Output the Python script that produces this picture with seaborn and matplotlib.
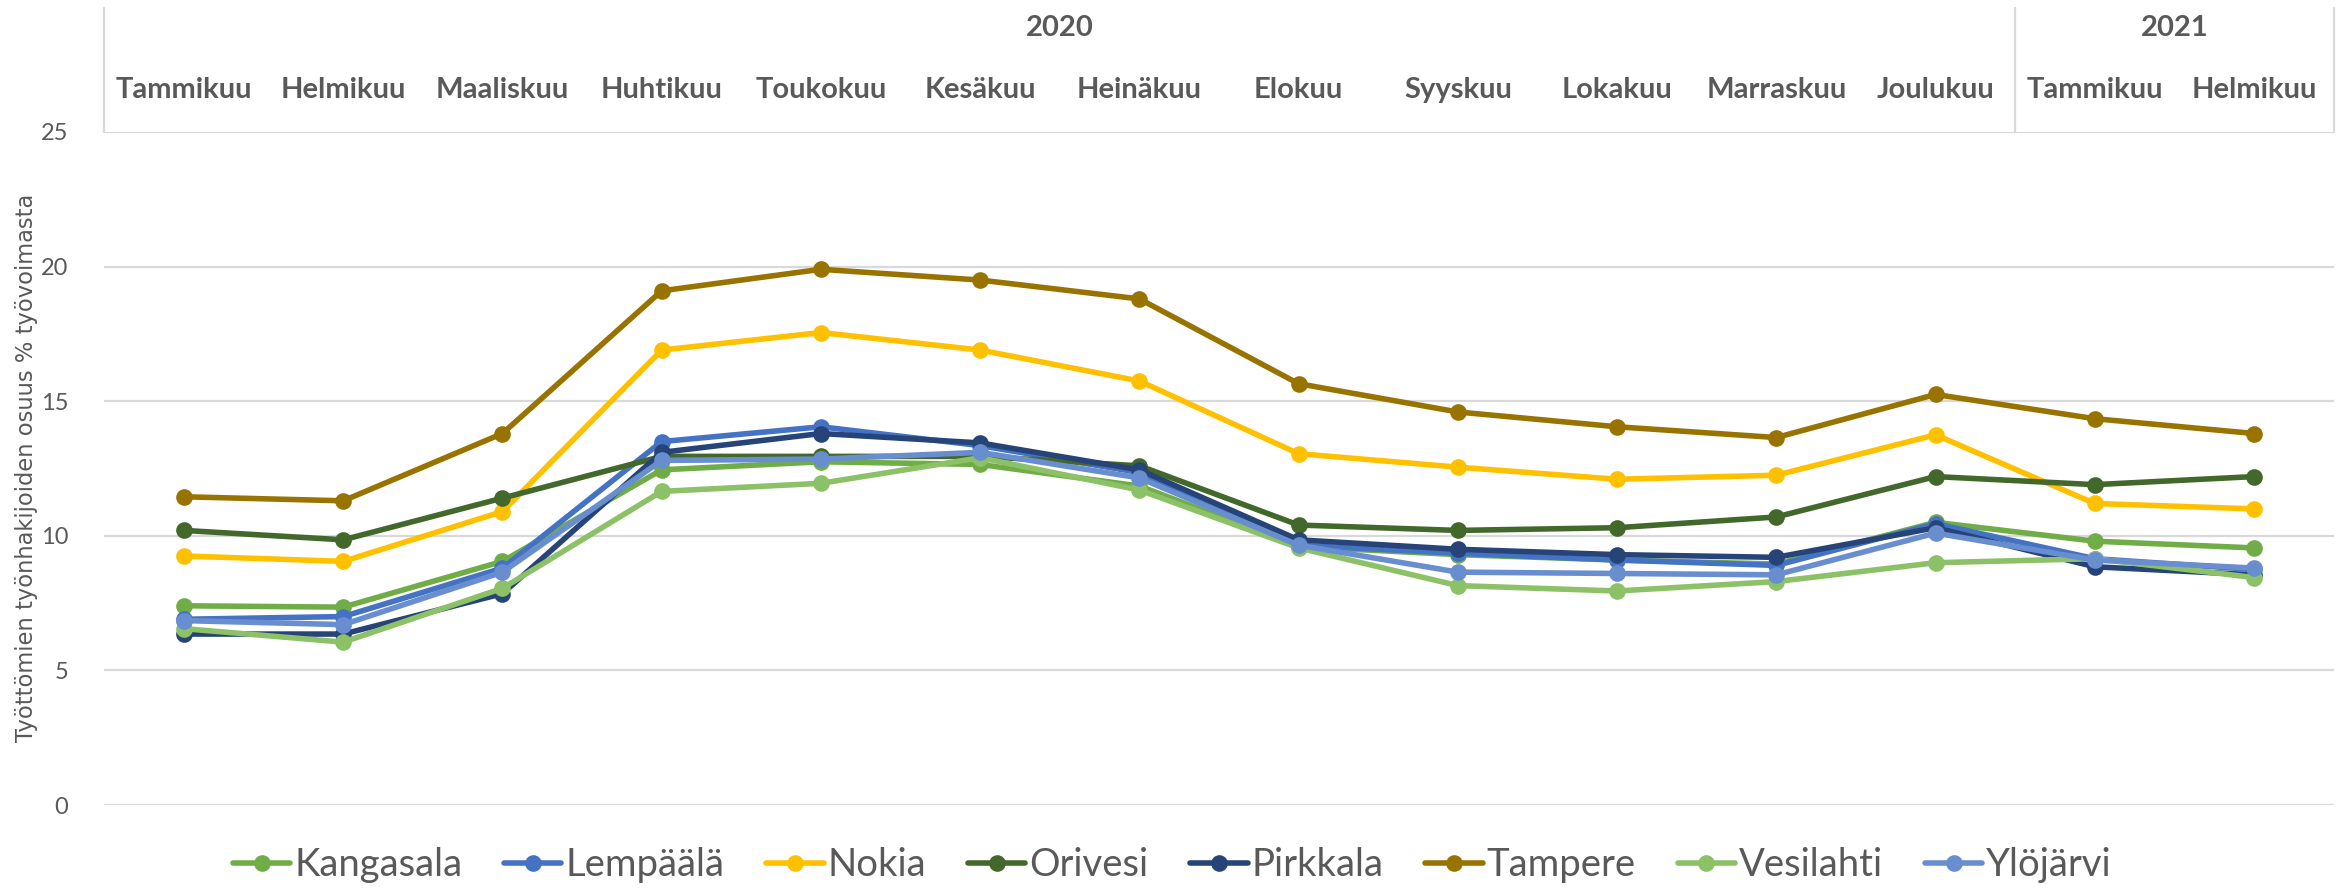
import numpy as np
import pandas as pd
import matplotlib
matplotlib.use('Agg')
import matplotlib.pyplot as plt
import matplotlib.transforms as mtransforms
import seaborn as sns

# ---------------------------------------------------------------------------
# Data: share of unemployed jobseekers (% of labour force), Pirkanmaa
# ---------------------------------------------------------------------------
months = ['Tammikuu', 'Helmikuu', 'Maaliskuu', 'Huhtikuu', 'Toukokuu', 'Kesäkuu',
          'Heinäkuu', 'Elokuu', 'Syyskuu', 'Lokakuu', 'Marraskuu', 'Joulukuu',
          'Tammikuu', 'Helmikuu']
years = ['2020'] * 12 + ['2021'] * 2

kangasala = [7.4, 7.35, 9.05, 12.45, 12.75, 12.65, 11.85, 9.6, 9.3, 9.1, 8.95, 10.5, 9.8, 9.55]
lempaala = [6.9, 7.0, 8.8, 13.5, 14.05, 13.35, 12.35, 9.65, 9.35, 9.1, 8.9, 10.45, 9.15, 8.75]
nokia = [9.25, 9.05, 10.9, 16.9, 17.55, 16.9, 15.75, 13.05, 12.55, 12.1, 12.25, 13.75, 11.2, 11.0]
orivesi = [10.2, 9.85, 11.4, 12.95, 12.95, 12.95, 12.6, 10.4, 10.2, 10.3, 10.7, 12.2, 11.9, 12.2]
pirkkala = [6.35, 6.35, 7.85, 13.1, 13.8, 13.45, 12.45, 9.85, 9.5, 9.3, 9.2, 10.3, 8.85, 8.55]
tampere = [11.45, 11.3, 13.8, 19.1, 19.9, 19.5, 18.8, 15.65, 14.6, 14.05, 13.65, 15.25, 14.35, 13.8]
vesilahti = [6.55, 6.05, 8.05, 11.65, 11.95, 12.9, 11.7, 9.55, 8.15, 7.95, 8.3, 9.0, 9.15, 8.45]
ylojarvi = [6.85, 6.7, 8.65, 12.8, 12.85, 13.1, 12.15, 9.65, 8.65, 8.6, 8.55, 10.1, 9.1, 8.8]

series = {
    'Kangasala': kangasala,
    'Lempäälä': lempaala,
    'Nokia': nokia,
    'Orivesi': orivesi,
    'Pirkkala': pirkkala,
    'Tampere': tampere,
    'Vesilahti': vesilahti,
    'Ylöjärvi': ylojarvi,
}

colors = {
    'Kangasala': '#70AD47',
    'Lempäälä': '#4472C4',
    'Nokia': '#FFC000',
    'Orivesi': '#43682B',
    'Pirkkala': '#264478',
    'Tampere': '#997300',
    'Vesilahti': '#8CC168',
    'Ylöjärvi': '#698ED0',
}

rows = []
for name, vals in series.items():
    for i, v in enumerate(vals):
        rows.append({'kunta': name, 'idx': i, 'arvo': v})
df = pd.DataFrame(rows)

# ---------------------------------------------------------------------------
# Plot
# ---------------------------------------------------------------------------
sns.set_theme(style='white')
plt.rcParams['font.family'] = ['Lato', 'DejaVu Sans']
text_col = '#595959'
grid_col = '#D9D9D9'

fig = plt.figure(figsize=(23.46, 8.88), dpi=100)
ax = fig.add_axes([104.4 / 2346, 83 / 888, 2229.2 / 2346, 673 / 888])

ax.set_axisbelow(True)
for y in range(0, 26, 5):
    ax.axhline(y, color=grid_col, lw=1.6, zorder=0)

sns.lineplot(data=df, x='idx', y='arvo', hue='kunta', palette=colors,
             hue_order=list(series.keys()), marker='o', markersize=12,
             markeredgewidth=0, linewidth=4, sort=False, ax=ax, legend=True)

ax.set_xlim(-0.5, 13.5)
ax.set_ylim(0, 25)
ax.set_yticks(range(0, 26, 5))
ax.set_xticks([])
ax.set_xlabel('')
ax.set_ylabel('')
ax.tick_params(axis='y', length=0, pad=26, labelsize=17, labelcolor=text_col)
for s in ax.spines.values():
    s.set_visible(False)

# y-axis title
fig.text(27 / 2346, (888 - 468) / 888, 'Työttömien työnhakijoiden osuus % työvoimasta',
         rotation=90, ha='center', va='center', fontsize=16.3,
         color=text_col, family='DejaVu Sans')

# multi-level category header above the plot
trans = mtransforms.blended_transform_factory(ax.transData, ax.transAxes)
top = 1.184
ax.plot([-0.5, -0.5], [1, top], color=grid_col, lw=1.6, transform=trans, clip_on=False)
ax.plot([13.5, 13.5], [1, top], color=grid_col, lw=1.6, transform=trans, clip_on=False)
ax.plot([11.5, 11.5], [1, top], color=grid_col, lw=1.6, transform=trans, clip_on=False)
for i, m in enumerate(months):
    ax.text(i, 1.0624, m, transform=trans, ha='center', va='center',
            fontsize=21, fontweight='bold', color=text_col)
ax.text(5.5, 1.1545, '2020', transform=trans, ha='center', va='center',
        fontsize=21, fontweight='bold', color=text_col)
ax.text(12.5, 1.1545, '2021', transform=trans, ha='center', va='center',
        fontsize=21, fontweight='bold', color=text_col)

# legend at the bottom
handles, labels = ax.get_legend_handles_labels()
ax.legend_.remove()
leg = fig.legend(handles, labels, loc='center', bbox_to_anchor=(0.4997, 0.026),
                 ncol=8, frameon=False, fontsize=27.5, handlelength=1.5,
                 handletextpad=0.1, columnspacing=1.1, borderaxespad=0)
for t in leg.get_texts():
    t.set_color(text_col)

fig.savefig('out.png', dpi=100)
